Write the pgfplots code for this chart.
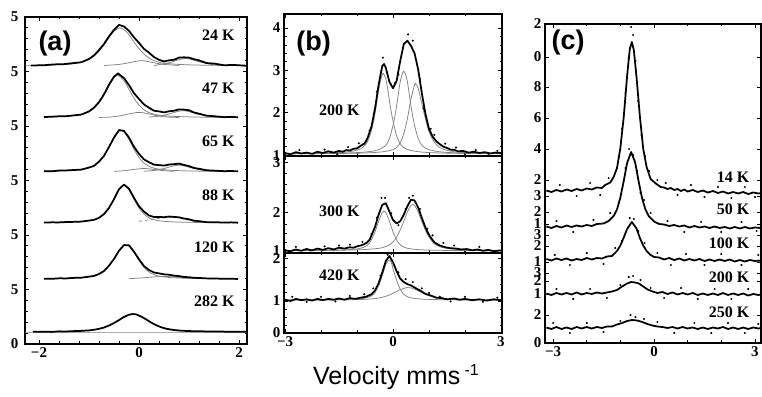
\documentclass[border=0pt]{standalone}
\usepackage{fontspec}
\setmainfont{Liberation Serif}
\newfontfamily\sansfont{Liberation Sans}
\usepackage{pgfplots}
\pgfplotsset{compat=1.18}
\pgfplotsset{
  spec/.style={
    scale only axis,
    axis line style={line width=1.1pt},
    tick style={line width=0.8pt, black},
    major tick length=4pt,
    minor tick length=2.5pt,
    tick align=inside,
    ticklabel style={font=\bfseries\fontsize{15}{15}\selectfont},
    /pgf/number format/assume math mode=true,
  },
  dat/.style={black, line width=1.75pt, line join=round},
  comp/.style={black!50, line width=0.75pt, smooth},
  dots/.style={only marks, mark=*, mark size=0.8pt, black},
}
\tikzset{
  lab/.style={font=\bfseries\fontsize{16}{16}\selectfont},
  plab/.style={font=\sansfont\bfseries\fontsize{27}{27}\selectfont},
}
\begin{document}
\begin{tikzpicture}
\path[use as bounding box] (0pt,0pt) rectangle (762pt,396pt);

% ---------------- panel (a)
\begin{axis}[spec, at={(25pt,52pt)}, anchor=south west, width=222pt, height=327pt,
  xmin=-2.28, xmax=2.16, ymin=0, ymax=6,
  xtick={-2,0,2}, xticklabels={−2,0,2},
  minor xtick={-1.6,-1.2,-0.8,-0.4,0.4,0.8,1.2,1.6},
  ytick={0,1,2,3,4,5,6}, yticklabels={0,5,5,5,5,5,5}, minor y tick num=4,
  yticklabel style={xshift=-3pt}]
% 24 K
\addplot[comp] coordinates {(-2.28,5.105) (-1.9,5.115) (-1.6,5.125) (-1.3,5.145) (-1.0,5.225) (-0.8,5.37) (-0.6,5.62) (-0.5,5.74) (-0.38,5.80) (-0.25,5.73) (-0.1,5.54) (0,5.42) (0.1,5.32) (0.25,5.22) (0.45,5.16) (0.8,5.13) (1.3,5.115) (1.9,5.11) (2.16,5.105)};
\addplot[comp] coordinates {(-0.7,5.11) (-0.4,5.13) (-0.2,5.16) (0.05,5.20) (0.3,5.16) (0.5,5.13) (0.8,5.11)};
\addplot[comp] coordinates {(0.3,5.11) (0.6,5.16) (0.92,5.24) (1.2,5.18) (1.5,5.12)};
\addplot[dat] coordinates {(-2.16,5.11) (-1.9,5.115) (-1.7,5.13) (-1.5,5.135) (-1.3,5.155) (-1.15,5.17) (-1.0,5.23) (-0.9,5.295) (-0.8,5.395) (-0.7,5.505) (-0.6,5.645) (-0.5,5.765) (-0.4,5.855) (-0.3,5.825) (-0.2,5.745) (-0.1,5.625) (0,5.525) (0.1,5.415) (0.2,5.345) (0.3,5.265) (0.4,5.215) (0.5,5.185) (0.6,5.205) (0.7,5.215) (0.8,5.255) (0.9,5.26) (1.0,5.255) (1.1,5.225) (1.2,5.205) (1.35,5.155) (1.5,5.145) (1.7,5.115) (1.9,5.12) (2.16,5.105)};
% 47 K
\addplot[comp] coordinates {(-1.9,4.165) (-1.6,4.173) (-1.35,4.188) (-1.15,4.214) (-1.0,4.263) (-0.9,4.335) (-0.8,4.427) (-0.7,4.575) (-0.6,4.74) (-0.5,4.887) (-0.42,4.93) (-0.3,4.833) (-0.2,4.674) (-0.1,4.51) (0,4.384) (0.1,4.298) (0.2,4.247) (0.3,4.216) (0.4,4.2) (0.5,4.188) (0.7,4.177) (0.9,4.17) (1.2,4.163) (1.5,4.16) (1.98,4.156)};
\addplot[comp] coordinates {(-0.8,4.157) (-0.6,4.163) (-0.4,4.183) (-0.2,4.222) (0,4.25) (0.2,4.222) (0.4,4.183) (0.6,4.163) (0.8,4.157)};
\addplot[comp] coordinates {(0.2,4.163) (0.4,4.181) (0.6,4.221) (0.8,4.273) (0.9,4.279) (1.0,4.264) (1.2,4.21) (1.5,4.166) (1.7,4.158)};
\addplot[dat] coordinates {(-1.9,4.165) (-1.75,4.17) (-1.6,4.178) (-1.45,4.18) (-1.35,4.19) (-1.15,4.21) (-1.0,4.268) (-0.9,4.335) (-0.8,4.438) (-0.7,4.58) (-0.6,4.758) (-0.5,4.905) (-0.42,4.965) (-0.3,4.878) (-0.2,4.75) (-0.1,4.602) (0,4.495) (0.1,4.395) (0.2,4.335) (0.3,4.28) (0.4,4.268) (0.5,4.25) (0.6,4.27) (0.7,4.28) (0.8,4.305) (0.9,4.3) (1.0,4.29) (1.1,4.248) (1.2,4.226) (1.35,4.19) (1.5,4.18) (1.7,4.162) (1.85,4.168) (1.98,4.16)};
% 65 K
\addplot[comp] coordinates {(-1.9,3.172) (-1.6,3.179) (-1.35,3.188) (-1.15,3.204) (-1.0,3.234) (-0.9,3.27) (-0.8,3.342) (-0.7,3.453) (-0.6,3.608) (-0.5,3.783) (-0.4,3.909) (-0.36,3.92) (-0.3,3.893) (-0.2,3.753) (-0.1,3.574) (0,3.422) (0.1,3.32) (0.2,3.26) (0.3,3.227) (0.4,3.209) (0.6,3.19) (0.8,3.181) (1.0,3.175) (1.5,3.168) (1.98,3.166)};
\addplot[comp] coordinates {(-0.5,3.168) (-0.3,3.18) (-0.1,3.203) (0.1,3.22) (0.3,3.203) (0.5,3.18) (0.7,3.168)};
\addplot[comp] coordinates {(0.1,3.171) (0.3,3.184) (0.5,3.22) (0.7,3.27) (0.8,3.28) (0.9,3.27) (1.1,3.22) (1.35,3.18) (1.7,3.166)};
\addplot[dat] coordinates {(-1.9,3.172) (-1.75,3.168) (-1.6,3.182) (-1.45,3.185) (-1.35,3.19) (-1.15,3.2) (-1.0,3.238) (-0.9,3.268) (-0.8,3.346) (-0.7,3.452) (-0.6,3.615) (-0.5,3.788) (-0.4,3.925) (-0.3,3.91) (-0.2,3.788) (-0.1,3.618) (0,3.488) (0.1,3.388) (0.2,3.335) (0.3,3.29) (0.4,3.282) (0.5,3.274) (0.6,3.292) (0.7,3.3) (0.8,3.31) (0.9,3.285) (1.0,3.264) (1.1,3.23) (1.2,3.215) (1.35,3.188) (1.5,3.181) (1.7,3.171) (1.85,3.174) (1.98,3.168)};
% 88 K
\addplot[comp] coordinates {(-1.9,2.228) (-1.6,2.233) (-1.35,2.239) (-1.15,2.248) (-1.0,2.262) (-0.9,2.28) (-0.8,2.312) (-0.7,2.386) (-0.6,2.493) (-0.5,2.661) (-0.4,2.833) (-0.3,2.92) (-0.2,2.833) (-0.1,2.661) (0,2.493) (0.1,2.386) (0.2,2.312) (0.3,2.28) (0.4,2.262) (0.5,2.251) (0.7,2.24) (1.0,2.233) (1.5,2.227) (1.98,2.225)};
\addplot[comp, dashed] coordinates {(0,2.252) (0.2,2.278) (0.4,2.306) (0.6,2.324) (0.72,2.325) (0.9,2.292) (1.1,2.254) (1.35,2.23)};
\addplot[dat] coordinates {(-1.9,2.228) (-1.75,2.232) (-1.6,2.231) (-1.45,2.238) (-1.35,2.24) (-1.15,2.246) (-1.0,2.265) (-0.9,2.278) (-0.8,2.316) (-0.7,2.384) (-0.6,2.497) (-0.5,2.658) (-0.4,2.84) (-0.3,2.925) (-0.2,2.848) (-0.1,2.68) (0,2.528) (0.1,2.428) (0.2,2.358) (0.3,2.33) (0.4,2.33) (0.5,2.327) (0.6,2.338) (0.7,2.332) (0.8,2.324) (0.9,2.302) (1.0,2.288) (1.1,2.262) (1.2,2.254) (1.35,2.236) (1.5,2.235) (1.7,2.229) (1.85,2.232) (1.98,2.226)};
% 120 K
\addplot[comp] coordinates {(-1.9,1.199) (-1.6,1.203) (-1.35,1.21) (-1.15,1.219) (-1.0,1.233) (-0.9,1.251) (-0.8,1.281) (-0.7,1.341) (-0.6,1.433) (-0.5,1.562) (-0.4,1.707) (-0.3,1.81) (-0.26,1.82) (-0.2,1.798) (-0.1,1.681) (0,1.533) (0.1,1.407) (0.2,1.322) (0.3,1.273) (0.4,1.245) (0.6,1.221) (0.8,1.211) (1.0,1.205) (1.5,1.198) (1.98,1.195)};
\addplot[comp] coordinates {(-0.2,1.199) (0.1,1.215) (0.3,1.231) (0.5,1.24) (0.7,1.231) (0.9,1.215) (1.2,1.199)};
\addplot[dat] coordinates {(-1.9,1.199) (-1.75,1.195) (-1.6,1.205) (-1.45,1.203) (-1.35,1.212) (-1.15,1.217) (-1.0,1.236) (-0.9,1.249) (-0.8,1.285) (-0.7,1.339) (-0.6,1.437) (-0.5,1.56) (-0.4,1.712) (-0.3,1.815) (-0.2,1.81) (-0.1,1.692) (0,1.554) (0.1,1.43) (0.2,1.358) (0.3,1.312) (0.4,1.296) (0.5,1.278) (0.6,1.272) (0.7,1.254) (0.8,1.246) (0.9,1.23) (1.0,1.225) (1.1,1.214) (1.2,1.212) (1.35,1.204) (1.5,1.204) (1.7,1.195) (1.85,1.198) (1.98,1.193)};
% 282 K
\addplot[comp] coordinates {(-2.28,0.22) (2.16,0.22)};
\addplot[dat] coordinates {(-2.12,0.226) (-1.9,0.227) (-1.75,0.222) (-1.6,0.232) (-1.45,0.23) (-1.35,0.235) (-1.15,0.241) (-1.0,0.25) (-0.9,0.261) (-0.8,0.278) (-0.7,0.302) (-0.6,0.339) (-0.5,0.385) (-0.4,0.439) (-0.3,0.497) (-0.2,0.538) (-0.12,0.55) (-0.05,0.542) (0.05,0.5) (0.15,0.448) (0.25,0.39) (0.35,0.342) (0.45,0.305) (0.55,0.279) (0.7,0.256) (0.85,0.244) (1.0,0.237) (1.2,0.233) (1.5,0.229) (1.8,0.226) (2.16,0.224)};
\node[lab, anchor=east] at (axis cs:1.98,5.67) {24 K};
\node[lab, anchor=east] at (axis cs:1.98,4.70) {47 K};
\node[lab, anchor=east] at (axis cs:1.98,3.72) {65 K};
\node[lab, anchor=east] at (axis cs:1.98,2.73) {88 K};
\node[lab, anchor=east] at (axis cs:1.98,1.78) {120 K};
\node[lab, anchor=east] at (axis cs:1.98,0.79) {282 K};
\node[plab] at (axis cs:-1.68,5.52) {(a)};
\end{axis}

% ---------------- panel (b) top
\begin{axis}[spec, at={(284pt,240pt)}, anchor=south west, width=218pt, height=142pt,
  xmin=-3.03, xmax=3.03, ymin=0.98, ymax=4.33,
  xtick={-3,0,3}, xticklabels={}, minor xtick={-2,-1,1,2},
  ytick={1,2,3,4}, minor y tick num=4]
\addplot[comp] coordinates {(-3,1.037) (-2.4,1.041) (-1.8,1.053) (-1.5,1.062) (-1.3,1.074) (-1.1,1.098) (-0.9,1.148) (-0.75,1.258) (-0.7,1.33) (-0.6,1.58) (-0.5,1.98) (-0.4,2.53) (-0.35,2.75) (-0.3,2.90) (-0.27,2.93) (-0.2,2.80) (-0.15,2.57) (-0.1,2.29) (-0.05,2.02) (0,1.81) (0.1,1.46) (0.2,1.27) (0.3,1.178) (0.4,1.134) (0.5,1.11) (0.7,1.081) (0.9,1.066) (1.1,1.057) (1.4,1.049) (1.8,1.042) (2.4,1.037) (3,1.035)};
\addplot[comp] coordinates {(-3,1.035) (-2.4,1.037) (-1.8,1.042) (-1.3,1.05) (-0.9,1.065) (-0.6,1.09) (-0.4,1.128) (-0.2,1.235) (-0.1,1.39) (0,1.70) (0.05,1.91) (0.1,2.16) (0.15,2.45) (0.2,2.73) (0.25,2.90) (0.3,2.98) (0.35,2.90) (0.4,2.73) (0.45,2.45) (0.5,2.16) (0.55,1.91) (0.6,1.70) (0.7,1.39) (0.8,1.235) (0.9,1.167) (1.0,1.128) (1.25,1.085) (1.6,1.06) (2.1,1.046) (2.7,1.039) (3,1.037)};
\addplot[comp] coordinates {(-3,1.033) (-2.4,1.035) (-1.8,1.037) (-1.3,1.042) (-0.9,1.048) (-0.6,1.058) (-0.3,1.078) (-0.1,1.106) (0,1.13) (0.1,1.18) (0.2,1.29) (0.3,1.51) (0.4,1.86) (0.5,2.33) (0.6,2.66) (0.63,2.68) (0.7,2.58) (0.8,2.22) (0.9,1.86) (1.0,1.56) (1.1,1.37) (1.25,1.21) (1.4,1.14) (1.6,1.095) (1.8,1.072) (2.1,1.055) (2.4,1.047) (3.0,1.039)};
\addplot[dat] coordinates {(-3.0,1.05) (-2.85,1.02) (-2.7,1.07) (-2.55,1.04) (-2.4,1.06) (-2.25,1.03) (-2.1,1.08) (-1.95,1.05) (-1.8,1.09) (-1.65,1.06) (-1.5,1.10) (-1.4,1.08) (-1.3,1.12) (-1.2,1.11) (-1.1,1.15) (-1.0,1.16) (-0.9,1.22) (-0.8,1.27) (-0.75,1.33) (-0.7,1.42) (-0.6,1.67) (-0.5,2.10) (-0.4,2.66) (-0.3,3.10) (-0.25,3.15) (-0.2,3.06) (-0.1,2.73) (0,2.58) (0.1,2.75) (0.2,3.22) (0.3,3.62) (0.4,3.70) (0.5,3.58) (0.6,3.40) (0.7,3.02) (0.8,2.47) (0.9,1.98) (1.0,1.62) (1.1,1.44) (1.2,1.33) (1.3,1.26) (1.4,1.20) (1.5,1.17) (1.6,1.13) (1.7,1.13) (1.8,1.09) (1.95,1.10) (2.1,1.06) (2.25,1.08) (2.4,1.05) (2.55,1.07) (2.7,1.04) (2.85,1.06) (3.0,1.05)};
\addplot[dots] coordinates {(-2.6,1.12) (-2.2,0.99) (-1.9,1.13) (-1.55,1.02) (-1.25,1.19) (-0.95,1.28) (-0.65,1.58) (-0.55,1.85) (-0.45,2.5) (-0.28,3.3) (0.05,2.7) (0.15,2.9) (0.42,3.85) (0.55,3.7) (0.75,2.8) (0.85,2.1) (1.05,1.62) (1.15,1.48) (1.45,1.27) (1.75,1.18) (2.0,1.02) (2.3,1.12) (2.65,1.0) (2.9,1.1)};
\node[lab] at (axis cs:-1.49,2.06) {200 K};
\node[plab] at (axis cs:-2.21,3.645) {(b)};
\end{axis}

% ---------------- panel (b) middle
\begin{axis}[spec, at={(284pt,143pt)}, anchor=south west, width=218pt, height=97pt,
  xmin=-3.03, xmax=3.03, ymin=0.95, ymax=3.15,
  xtick={-3,0,3}, xticklabels={}, minor xtick={-2,-1,1,2},
  ytick={1,1.86,3}, yticklabels={1,2,3}, minor ytick={1.2,1.4,1.6,2.1,2.3,2.5,2.75}]
\addplot[comp] coordinates {(-3,1.003) (-2.4,1.006) (-1.8,1.011) (-1.5,1.016) (-1.2,1.027) (-1.0,1.042) (-0.8,1.084) (-0.65,1.18) (-0.5,1.43) (-0.4,1.67) (-0.3,1.87) (-0.25,1.90) (-0.2,1.87) (-0.1,1.67) (0,1.43) (0.1,1.247) (0.2,1.139) (0.3,1.084) (0.4,1.057) (0.5,1.042) (0.7,1.027) (1.0,1.016) (1.5,1.008) (2.1,1.005) (3,1.0025)};
\addplot[comp] coordinates {(-3,1.004) (-2.4,1.006) (-1.8,1.01) (-1.2,1.017) (-0.8,1.028) (-0.5,1.047) (-0.3,1.069) (-0.1,1.132) (0,1.20) (0.1,1.31) (0.2,1.47) (0.3,1.67) (0.4,1.88) (0.5,2.03) (0.55,2.05) (0.6,2.03) (0.7,1.88) (0.8,1.67) (0.9,1.47) (1.0,1.31) (1.15,1.16) (1.3,1.092) (1.5,1.055) (1.8,1.032) (2.1,1.023) (2.5,1.014) (3,1.009)};
\addplot[dat] coordinates {(-3.0,1.01) (-2.85,0.99) (-2.7,1.03) (-2.55,1.00) (-2.4,1.04) (-2.25,1.01) (-2.1,1.05) (-1.95,1.02) (-1.8,1.06) (-1.65,1.03) (-1.5,1.07) (-1.35,1.05) (-1.2,1.08) (-1.1,1.07) (-1.0,1.10) (-0.9,1.12) (-0.8,1.15) (-0.72,1.19) (-0.65,1.25) (-0.5,1.54) (-0.4,1.82) (-0.3,2.04) (-0.2,2.08) (-0.1,1.89) (0,1.70) (0.1,1.62) (0.2,1.67) (0.3,1.82) (0.4,2.01) (0.5,2.16) (0.6,2.14) (0.7,1.98) (0.8,1.75) (0.9,1.53) (1.0,1.36) (1.15,1.19) (1.3,1.12) (1.45,1.08) (1.6,1.06) (1.75,1.05) (1.9,1.03) (2.05,1.04) (2.2,1.01) (2.35,1.03) (2.5,1.00) (2.65,1.02) (2.8,0.99) (3.0,1.01)};
\addplot[dots] coordinates {(-2.7,1.09) (-2.3,0.96) (-1.9,1.1) (-1.5,1.12) (-1.2,1.14) (-0.85,1.2) (-0.6,1.38) (-0.45,1.75) (-0.32,2.2) (-0.22,2.2) (-0.05,1.85) (0.15,1.58) (0.35,1.95) (0.45,2.2) (0.55,2.25) (0.75,1.95) (0.95,1.5) (1.1,1.35) (1.4,1.18) (1.7,1.12) (2.0,0.98) (2.4,1.09) (2.8,0.97)};
\node[lab] at (axis cs:-1.49,1.90) {300 K};
\end{axis}

% ---------------- panel (b) bottom
\begin{axis}[spec, at={(284pt,63pt)}, anchor=south west, width=218pt, height=80pt,
  xmin=-3.03, xmax=3.03, ymin=0.24, ymax=2.14,
  xtick={-3,0,3}, xticklabels={−3,0,3}, minor xtick={-2,-1,1,2},
  ytick={0.24,1,2}, yticklabels={0,1,2}, minor ytick={0.43,0.62,0.81,1.2,1.4,1.6,1.8}]
\addplot[comp] coordinates {(-3,1.023) (-2.4,1.024) (-1.8,1.028) (-1.4,1.034) (-1.1,1.043) (-0.9,1.055) (-0.75,1.073) (-0.6,1.12) (-0.5,1.20) (-0.4,1.36) (-0.3,1.60) (-0.2,1.87) (-0.12,1.97) (-0.05,1.93) (0,1.77) (0.1,1.495) (0.2,1.28) (0.3,1.16) (0.4,1.102) (0.5,1.075) (0.6,1.061) (0.75,1.048) (0.9,1.041) (1.2,1.033) (1.7,1.027) (2.4,1.024) (3,1.022)};
\addplot[comp] coordinates {(-3,1.023) (-2.4,1.024) (-1.8,1.026) (-1.4,1.029) (-1.1,1.032) (-0.9,1.036) (-0.75,1.041) (-0.6,1.049) (-0.5,1.057) (-0.4,1.07) (-0.3,1.088) (-0.2,1.112) (-0.1,1.143) (0,1.183) (0.1,1.225) (0.2,1.268) (0.3,1.302) (0.4,1.32) (0.5,1.311) (0.6,1.284) (0.75,1.22) (0.9,1.158) (1.05,1.11) (1.2,1.076) (1.4,1.052) (1.7,1.037) (2.0,1.031) (2.4,1.027) (3,1.024)};
\addplot[dat] coordinates {(-3.0,1.03) (-2.85,1.00) (-2.7,1.05) (-2.55,1.02) (-2.4,1.04) (-2.25,1.01) (-2.1,1.05) (-1.95,1.02) (-1.8,1.05) (-1.65,1.03) (-1.5,1.06) (-1.35,1.03) (-1.2,1.07) (-1.05,1.05) (-0.9,1.08) (-0.75,1.10) (-0.6,1.16) (-0.5,1.25) (-0.4,1.42) (-0.3,1.67) (-0.2,1.95) (-0.1,2.07) (0,1.92) (0.1,1.71) (0.2,1.53) (0.3,1.45) (0.4,1.40) (0.5,1.37) (0.6,1.32) (0.75,1.25) (0.9,1.17) (1.05,1.13) (1.2,1.08) (1.35,1.07) (1.5,1.04) (1.7,1.06) (1.85,1.03) (2.0,1.05) (2.2,1.02) (2.4,1.04) (2.6,1.01) (2.8,1.04) (3.0,1.02)};
\addplot[dots] coordinates {(-2.8,1.1) (-2.4,0.98) (-2.0,1.1) (-1.6,0.99) (-1.2,1.12) (-0.8,1.16) (-0.55,1.3) (-0.35,1.6) (-0.15,2.1) (-0.05,2.12) (0.15,1.68) (0.35,1.52) (0.55,1.45) (0.8,1.3) (1.0,1.19) (1.3,1.1) (1.6,0.99) (2.0,1.1) (2.5,0.98) (2.9,1.08)};
\node[lab] at (axis cs:-1.49,1.6) {420 K};
\end{axis}

% ---------------- panel (c)
\begin{axis}[spec, at={(545pt,53pt)}, anchor=south west, width=216pt, height=319pt,
  xmin=-3.24, xmax=3.18, ymin=0, ymax=319,
  xtick={-3,0,3}, xticklabels={−3,0,3}, minor xtick={-2,-1,1,2},
  ytick={0,28,49,62,70,81,97,108,119,131,147,163,194,225,256,286,319},
  yticklabels={0,2,1,2,3,1,2,3,1,2,3,2,4,6,8,0,2}]
% 14 K
\addplot[dat] coordinates {(-3.2,152.5) (-3.05,151.0) (-2.9,153.0) (-2.75,151.5) (-2.6,153.5) (-2.45,152.0) (-2.3,154.0) (-2.15,152.5) (-2.0,154.5) (-1.85,153.5) (-1.7,155.5) (-1.55,155.0) (-1.45,158.0) (-1.3,160.5) (-1.2,166.0) (-1.1,175.0) (-1.0,195.0) (-0.9,226.0) (-0.8,267.0) (-0.72,294.0) (-0.66,301.0) (-0.6,293.0) (-0.52,266.0) (-0.42,226.5) (-0.32,194.0) (-0.22,176.0) (-0.1,164.0) (0.05,159.5) (0.2,156.0) (0.3,155.5) (0.4,154.0) (0.5,155.0) (0.6,153.0) (0.7,154.0) (0.8,152.0) (0.9,153.5) (1.0,151.5) (1.15,153.0) (1.3,151.0) (1.45,152.5) (1.6,150.5) (1.75,152.0) (1.9,150.0) (2.05,151.5) (2.2,149.5) (2.35,151.0) (2.5,149.5) (2.65,151.0) (2.8,149.0) (2.95,150.5) (3.1,149.5) (3.18,150.0)};
\addplot[dots] coordinates {(-2.8,158) (-2.3,147) (-1.9,160) (-1.6,148) (-1.35,165) (-1.05,186) (-0.95,214) (-0.85,250) (-0.75,285) (-0.68,316) (-0.62,308) (-0.55,282) (-0.47,242) (-0.37,208) (-0.27,187) (-0.15,172) (0.1,163) (0.35,160) (0.7,148) (1.1,158) (1.5,146) (1.9,156) (2.3,145) (2.7,156) (3.0,146)};
% 50 K
\addplot[dat] coordinates {(-3.2,116.5) (-3.05,115.0) (-2.9,117.0) (-2.75,115.5) (-2.6,117.5) (-2.45,116.0) (-2.3,117.5) (-2.15,116.5) (-2.0,118.0) (-1.85,117.0) (-1.7,119.0) (-1.5,119.5) (-1.35,122.0) (-1.2,127.0) (-1.1,133.5) (-1.0,145.5) (-0.9,162.0) (-0.8,180.0) (-0.68,191.0) (-0.56,180.5) (-0.46,162.0) (-0.36,145.5) (-0.26,134.0) (-0.16,127.0) (0.0,121.5) (0.15,119.0) (0.3,118.5) (0.45,117.0) (0.6,118.0) (0.75,116.5) (0.9,117.5) (1.05,115.5) (1.2,117.0) (1.35,115.5) (1.5,116.5) (1.65,115.0) (1.8,116.5) (1.95,115.0) (2.1,116.0) (2.25,114.5) (2.4,116.0) (2.55,114.5) (2.7,116.0) (2.85,114.5) (3.0,115.5) (3.18,115.0)};
\addplot[dots] coordinates {(-2.9,122) (-2.4,111) (-1.8,123) (-1.3,130) (-1.05,140) (-0.95,154) (-0.85,175) (-0.74,194) (-0.62,188) (-0.5,172) (-0.4,150) (-0.3,143) (-0.1,130) (0.4,122) (0.9,111) (1.4,121) (2.0,111) (2.6,121) (3.05,112)};
% 100 K
\addplot[dat] coordinates {(-3.2,84.0) (-3.05,82.5) (-2.9,84.5) (-2.75,83.0) (-2.6,84.5) (-2.45,82.5) (-2.3,84.0) (-2.15,83.0) (-2.0,85.0) (-1.85,83.5) (-1.7,85.0) (-1.55,84.5) (-1.4,86.5) (-1.25,87.0) (-1.1,92.0) (-1.0,97.5) (-0.9,105.5) (-0.8,114.0) (-0.66,121.0) (-0.52,114.5) (-0.42,105.0) (-0.32,97.5) (-0.22,92.0) (-0.12,88.5) (0.0,86.0) (0.15,85.5) (0.3,83.5) (0.45,85.0) (0.6,83.0) (0.75,84.5) (0.9,82.5) (1.05,84.0) (1.2,82.5) (1.35,84.0) (1.5,82.0) (1.65,83.5) (1.8,82.0) (1.95,83.5) (2.1,82.0) (2.25,83.5) (2.4,81.5) (2.55,83.0) (2.7,81.5) (2.85,83.0) (3.0,82.0) (3.18,82.5)};
\addplot[dots] coordinates {(-2.95,88) (-2.5,78) (-2.0,90) (-1.5,79) (-1.15,95) (-0.95,102) (-0.72,125) (-0.6,124) (-0.47,112) (-0.28,100) (0.1,90) (0.5,78) (0.95,89) (1.5,78) (2.0,89) (2.6,78) (3.1,88)};
% 200 K
\addplot[dat] coordinates {(-3.2,49.5) (-3.05,48.0) (-2.9,50.0) (-2.75,48.5) (-2.6,50.0) (-2.45,48.5) (-2.3,50.5) (-2.15,48.5) (-2.0,50.0) (-1.85,49.0) (-1.7,50.5) (-1.55,49.5) (-1.4,50.5) (-1.25,51.5) (-1.1,53.0) (-0.95,56.5) (-0.8,59.5) (-0.68,61.0) (-0.56,60.5) (-0.45,59.5) (-0.32,56.5) (-0.19,53.5) (-0.04,51.5) (0.1,50.0) (0.25,51.0) (0.4,49.0) (0.55,50.5) (0.7,48.5) (0.85,50.0) (1.0,48.5) (1.15,50.0) (1.3,48.0) (1.45,49.5) (1.6,48.0) (1.75,49.5) (1.9,48.0) (2.05,50.0) (2.2,48.0) (2.35,49.5) (2.5,48.0) (2.65,49.5) (2.8,47.5) (2.95,49.0) (3.1,48.0) (3.18,48.5)};
\addplot[dots] coordinates {(-2.9,54) (-2.4,44) (-1.9,54) (-1.4,45) (-1.0,58) (-0.75,66) (-0.62,67) (-0.4,63) (-0.1,55) (0.3,45) (0.8,55) (1.3,44) (1.8,54) (2.3,44) (2.8,54)};
% 250 K
\addplot[dat] coordinates {(-3.2,15.5) (-3.05,14.0) (-2.9,16.0) (-2.75,14.0) (-2.6,15.5) (-2.45,14.0) (-2.3,16.0) (-2.15,14.5) (-2.0,16.0) (-1.85,14.5) (-1.7,16.0) (-1.55,15.0) (-1.4,16.5) (-1.25,16.5) (-1.1,18.5) (-0.95,20.0) (-0.8,22.0) (-0.65,23.0) (-0.5,22.5) (-0.35,21.0) (-0.2,19.0) (-0.05,17.5) (0.1,16.5) (0.25,16.0) (0.4,15.0) (0.55,16.0) (0.7,14.5) (0.85,16.0) (1.0,14.5) (1.15,15.5) (1.3,14.0) (1.45,15.5) (1.6,14.0) (1.75,15.5) (1.9,14.5) (2.05,16.0) (2.2,14.0) (2.35,15.5) (2.5,14.0) (2.65,15.5) (2.8,14.0) (2.95,15.5) (3.1,14.5) (3.18,15.0)};
\addplot[dots] coordinates {(-3.0,20) (-2.5,10) (-2.0,20) (-1.5,11) (-1.0,22) (-0.7,28) (-0.55,26) (-0.3,24) (0.1,21) (0.6,10) (1.2,20) (1.7,10) (2.2,20) (2.7,10) (3.1,19)};
\node[lab, anchor=east] at (axis cs:2.94,166) {14 K};
\node[lab, anchor=east] at (axis cs:2.94,134) {50 K};
\node[lab, anchor=east] at (axis cs:2.94,100) {100 K};
\node[lab, anchor=east] at (axis cs:2.94,66) {200 K};
\node[lab, anchor=east] at (axis cs:2.94,31) {250 K};
\node[plab] at (axis cs:-2.55,300) {(c)};
\end{axis}

\node[font=\sansfont\fontsize{25}{25}\selectfont] at (396pt,19pt) {Velocity mms\,\raisebox{9pt}{\fontsize{16}{16}\selectfont -1}};
\end{tikzpicture}
\end{document}
